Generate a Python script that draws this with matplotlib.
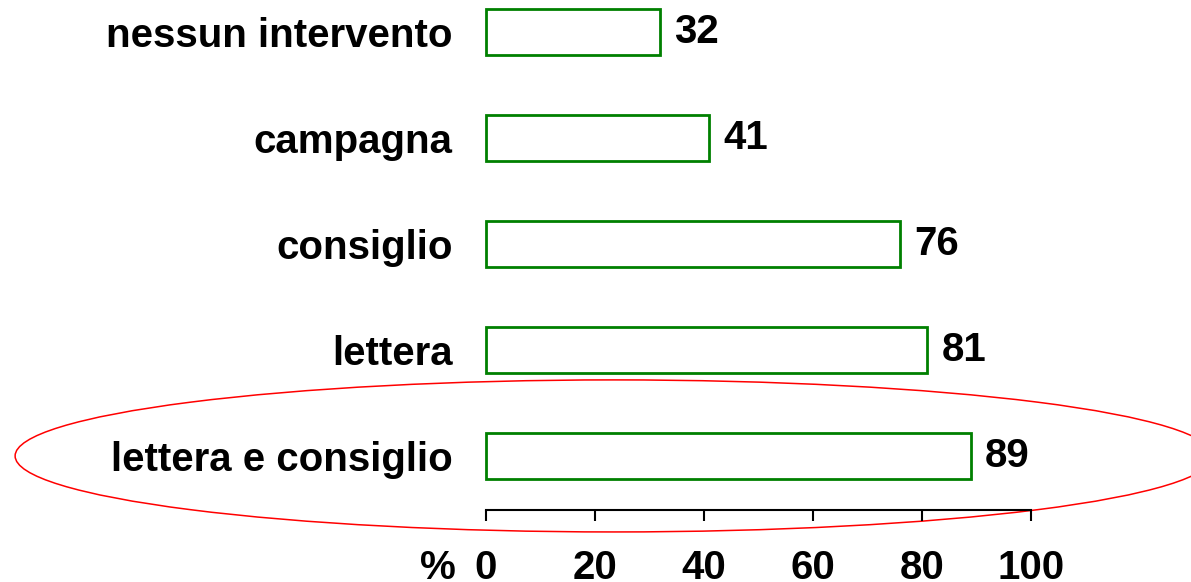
import matplotlib.pyplot as plt
from matplotlib.patches import Ellipse

plt.rcParams['font.family'] = ['Liberation Sans', 'DejaVu Sans']
plt.rcParams['font.weight'] = 'bold'

# bottom to top
categories = ['lettera e consiglio', 'lettera', 'consiglio', 'campagna', 'nessun intervento']
values = [89, 81, 76, 41, 32]
xticks = [0, 20, 40, 60, 80, 100]

fig = plt.figure(figsize=(11.91, 5.82), dpi=100)
ax = fig.add_axes([486/1191, 72/582, 545/1191, 510/582])

y = list(range(len(categories)))
bars = ax.barh(y, values, height=0.43, color='white', edgecolor='#008000',
               linewidth=2.0, clip_on=False)
ax.bar_label(bars, labels=[str(v) for v in values], padding=10, fontsize=29,
             fontweight='bold')

ax.set_xlim(0, 100)
ax.set_ylim(-0.51, 4.30)
ax.set_xticks(xticks)
ax.set_xticklabels([str(t) for t in xticks], fontsize=29, fontweight='bold')
ax.set_yticks(y)
ax.set_yticklabels(categories, fontsize=29, fontweight='bold')
ax.tick_params(axis='y', length=0, pad=24)
ax.tick_params(axis='x', direction='out', length=8, width=1.5, pad=20)

for s in ['top', 'right', 'left']:
    ax.spines[s].set_visible(False)
ax.spines['bottom'].set_linewidth(1.5)

ax.annotate('%', xy=(0, 0), xycoords=('data', 'axes fraction'),
            xytext=(-22, -28), textcoords='offset points',
            ha='right', va='top', fontsize=29, fontweight='bold')

# red ellipse around the best result
ax.add_patch(Ellipse((23.5, 0.0), 219.8, 1.434, fill=False, edgecolor='red',
                     linewidth=1.1, clip_on=False))

fig.savefig('out.png', dpi=100)
